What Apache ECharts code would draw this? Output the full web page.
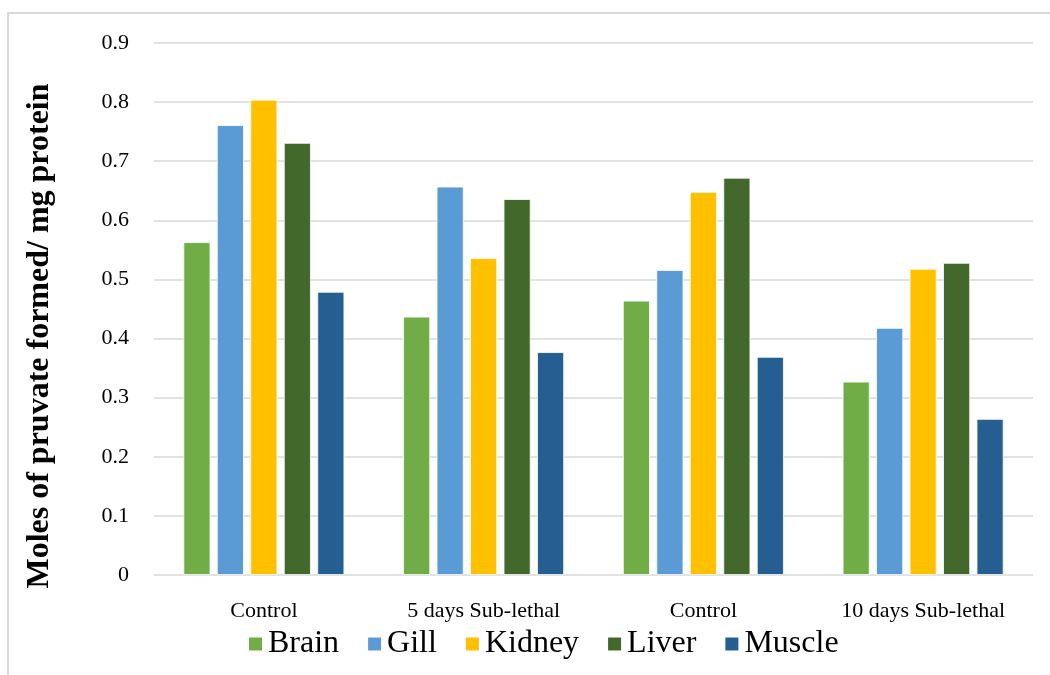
<!DOCTYPE html>
<html>
<head>
<meta charset="utf-8">
<script src="https://cdn.jsdelivr.net/npm/echarts@6/dist/echarts.min.js"></script>
<style>
  html, body { margin: 0; padding: 0; background: #fff; }
  #chart { width: 1050px; height: 675px; }
</style>
</head>
<body>
<div id="chart"></div>
<script>
// Pyruvate formed per mg protein, by tissue, for each exposure group
const categories = ['Control', '5 days Sub-lethal', 'Control', '10 days Sub-lethal'];
const brain  = [0.563, 0.437, 0.464, 0.327];
const gill   = [0.761, 0.657, 0.516, 0.418];
const kidney = [0.804, 0.536, 0.648, 0.518];
const liver  = [0.731, 0.636, 0.672, 0.528];
const muscle = [0.479, 0.377, 0.369, 0.264];
const yTicks = [0, 0.1, 0.2, 0.3, 0.4, 0.5, 0.6, 0.7, 0.8, 0.9];

const seriesDefs = [
  { name: 'Brain',  data: brain,  color: '#70AD47' },
  { name: 'Gill',   data: gill,   color: '#5B9BD5' },
  { name: 'Kidney', data: kidney, color: '#FFC000' },
  { name: 'Liver',  data: liver,  color: '#43682B' },
  { name: 'Muscle', data: muscle, color: '#255E91' }
];

const serif = '"Liberation Serif", "DejaVu Serif", serif';
const chart = echarts.init(document.getElementById('chart'));

chart.setOption({
  animation: false,
  backgroundColor: '#ffffff',
  graphic: [{
    type: 'rect',
    shape: { x: 8, y: 13, width: 1100, height: 700 },
    style: { fill: 'none', stroke: '#d9d9d9', lineWidth: 2 },
    silent: true,
    z: -1
  }],
  grid: { left: 154, right: 17, top: 43, bottom: 100 },
  legend: {
    data: seriesDefs.map(s => s.name),
    left: 242,
    top: 623,
    itemWidth: 15,
    itemHeight: 15,
    itemGap: 27,
    icon: 'rect',
    textStyle: { fontFamily: serif, fontSize: 32, color: '#000' }
  },
  xAxis: {
    type: 'category',
    data: categories,
    axisLine: { show: false },
    axisTick: { show: false },
    axisLabel: {
      interval: 0,
      fontFamily: serif, fontSize: 22, color: '#000', margin: 25
    }
  },
  yAxis: {
    type: 'value',
    min: 0, max: 0.9, interval: 0.1,
    name: 'Moles of pruvate formed/ mg protein',
    nameLocation: 'middle',
    nameGap: 98,
    nameTextStyle: {
      fontFamily: serif, fontSize: 32, fontWeight: 'bold', color: '#000',
      padding: [0, 54, 0, 0]
    },
    axisLine: { show: false },
    axisTick: { show: false },
    splitLine: { lineStyle: { color: '#d9d9d9', width: 1.5 } },
    axisLabel: {
      fontFamily: serif, fontSize: 22, color: '#000', margin: 25,
      formatter: v => {
        const t = yTicks.find(k => Math.abs(k - v) < 1e-9);
        return t === undefined ? '' : String(t);
      }
    }
  },
  series: seriesDefs.map(s => ({
    name: s.name,
    type: 'bar',
    data: s.data,
    barWidth: 27,
    barGap: '24%',
    itemStyle: { color: s.color, borderColor: '#ffffff', borderWidth: 0.8 }
  }))
});
</script>
</body>
</html>
